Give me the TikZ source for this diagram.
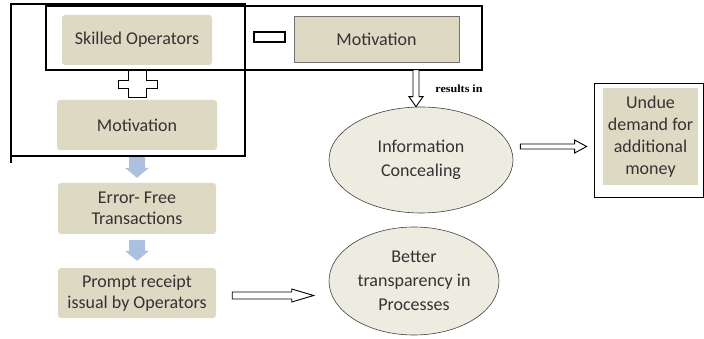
\documentclass[tikz,border=0pt]{standalone}
\usepackage{fontspec}
\setmainfont{Carlito}
\newfontfamily\labelserif{Liberation Serif}
\usetikzlibrary{shapes.geometric,calc}

\definecolor{tanfill}{HTML}{DDD9C3}
\definecolor{tanlight}{HTML}{EEECE1}
\definecolor{steel}{HTML}{ACC0E0}
\definecolor{ink}{HTML}{333333}

% block arrow pointing right: style, tail, tip, half shaft, half head, head length
\newcommand\arrowRight[6]{\path[#1] let \p1=(#2), \p2=(#3) in
  (\x1,\y1+#4) -- (\x2-#6,\y1+#4) -- (\x2-#6,\y1+#5) -- (\x2,\y1) --
  (\x2-#6,\y1-#5) -- (\x2-#6,\y1-#4) -- (\x1,\y1-#4) -- cycle;}
% block arrow pointing down: style, tail, tip, half shaft, half head, head length
\newcommand\arrowDown[6]{\path[#1] let \p1=(#2), \p2=(#3) in
  (\x1-#4,\y1) -- (\x1-#4,\y2+#6) -- (\x1-#5,\y2+#6) -- (\x1,\y2) --
  (\x1+#5,\y2+#6) -- (\x1+#4,\y2+#6) -- (\x1+#4,\y1) -- cycle;}

\tikzset{
  frame/.style={draw=black, line width=1.3pt, inner sep=0pt, outer sep=0pt},
  tanbox/.style={fill=tanfill, rounded corners=3pt, inner sep=0pt, text=ink,
    align=center, font=\fontsize{18}{21}\selectfont},
  oval/.style={ellipse, draw=black!75, line width=0.6pt, fill=tanlight, inner sep=0pt,
    text=ink, align=center, font=\fontsize{18}{24}\selectfont},
  hollow/.style={draw=black, fill=white, line width=0.9pt, line join=miter},
  bluearrow/.style={fill=steel}
}

\begin{document}
\begin{tikzpicture}[x=1pt, y=-1pt]
\useasboundingbox (0,0) rectangle (704,339);

% frames round the combined factors
\node[frame, minimum width=234pt, minimum height=152pt] (frameL) at (128,80) {};
\draw[line width=1.3pt] (frameL.south west) -- ++(0,7);
\node[frame, minimum width=436pt, minimum height=64pt] (frameT) at (264,38) {};

% left column
\node[tanbox, minimum width=150pt, minimum height=50pt] (skilled) at (137,40) {Skilled Operators};
\node[tanbox, minimum width=160pt, minimum height=50pt] (motL) at (137,125) {Motivation};
\node[tanbox, minimum width=158pt, minimum height=51pt] (err) at (137,208.5) {Error- Free\\Transactions};
\node[tanbox, minimum width=158pt, minimum height=50pt] (prompt) at (137,293) {Prompt receipt\\issual by Operators};

% plus sign between the two factors
\coordinate (plusC) at (137.5,84);
\draw[line width=0.9pt, shift={(plusC)}]
  (-9,-14) -- (9,-14) -- (9,-4) -- (19.5,-4) -- (19.5,4) -- (9,4) -- (9,13) --
  (-9,13) -- (-9,4) -- (-19.5,4) -- (-19.5,-4) -- (-9,-4) -- cycle;

% minus sign and the lacking factor
\node[frame, minimum width=31pt, minimum height=10pt] (minus) at (269.5,37) {};
\node[fill=tanfill, draw=black!55, line width=0.8pt, inner sep=0pt, text=ink,
  font=\fontsize{18}{21}\selectfont, minimum width=165pt, minimum height=46pt]
  (motT) at (376.5,39) {Motivation};

% outcomes
\node[oval, minimum width=184pt, minimum height=106pt] (info) at (421,160) {Information\\Concealing};
\node[oval, minimum width=170pt, minimum height=108pt] (better) at (414,281) {Better\\transparency in\\Processes};

\node[draw=black, line width=0.8pt, fill=white, inner sep=0pt,
  minimum width=109pt, minimum height=114pt] (undueO) at (648.5,140) {};
\node[fill=tanfill, inner sep=0pt, minimum width=95pt, minimum height=97pt, text=ink,
  align=center, font=\fontsize{18}{22}\selectfont] (undue) at (650.5,136.5)
  {Undue\\demand for\\additional\\money};

\node[font=\labelserif\bfseries\fontsize{11}{13}\selectfont, inner sep=0pt] (resultsin)
  at (459,89) {\scalebox{1.1}[1]{results in}};

% flow arrows
\arrowDown{bluearrow}{$(motL.south)+(0,7)$}{$(err.north)+(0,-5)$}{8pt}{12pt}{10pt}
\arrowDown{bluearrow}{$(err.south)+(0,6)$}{$(prompt.north)+(0,-7)$}{8pt}{12pt}{10pt}

\arrowDown{hollow}{$(info.north)+(-5,-37)$}{$(info.north)+(-5,0)$}{3pt}{7pt}{10pt}
\arrowRight{hollow}{$(info.east)+(7,-13.5)$}{$(undueO.west)+(-7,6.5)$}{2.5pt}{6.5pt}{12pt}
\arrowRight{hollow}{$(prompt.east)+(16,2.5)$}{$(better.west)+(-15,14.5)$}{3.5pt}{6.5pt}{22pt}

\end{tikzpicture}
\end{document}
